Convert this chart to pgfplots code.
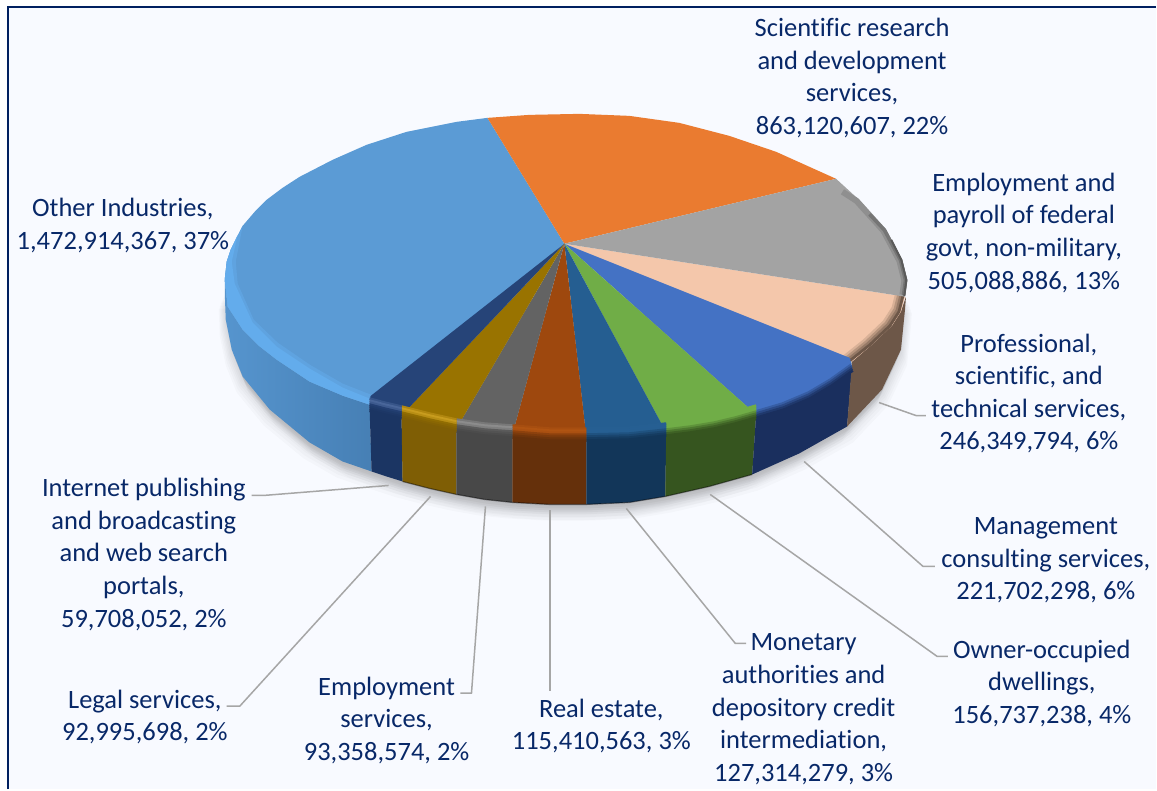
\documentclass[border=0pt]{standalone}
\usepackage{pgfplots}
\usepackage{pgfplotstable}
\pgfplotsset{compat=1.18}
\usepackage{fontspec}
\setmainfont{Carlito}[Ligatures=CommonOff]
\definecolor{lab}{HTML}{082868}
\definecolor{frame}{HTML}{002060}
\definecolor{bg}{HTML}{F8FAFF}
\definecolor{lead}{HTML}{A6A6A6}
% faces, highlights, sides
\definecolor{fBlue}{HTML}{5B9BD5}\definecolor{hBlue}{HTML}{63ACEC}\definecolor{sBlue}{HTML}{4A86BE}
\definecolor{fOrange}{HTML}{EA7B30}
\definecolor{fGrey}{HTML}{A3A3A3}
\definecolor{fPeach}{HTML}{F4C7AB}\definecolor{sPeach}{HTML}{6D5748}
\definecolor{fRoyal}{HTML}{4472C4}\definecolor{sRoyal}{HTML}{1A2F5E}
\definecolor{fGreen}{HTML}{70AD47}\definecolor{sGreen}{HTML}{36551F}
\definecolor{fSteel}{HTML}{255E91}\definecolor{hSteel}{HTML}{265F93}\definecolor{sSteel}{HTML}{123659}
\definecolor{fBrown}{HTML}{9E480E}\definecolor{hBrown}{HTML}{B05412}\definecolor{sBrown}{HTML}{65300B}
\definecolor{fDark}{HTML}{636363}\definecolor{hDark}{HTML}{8C8C8C}\definecolor{sDark}{HTML}{484848}
\definecolor{fGold}{HTML}{997300}\definecolor{hGold}{HTML}{C89C1E}\definecolor{sGold}{HTML}{7F5E05}
\definecolor{fNavy}{HTML}{264478}\definecolor{hNavy}{HTML}{49669A}\definecolor{sNavy}{HTML}{1B3563}

\pgfplotstableread{
x y
225 293
226 320
232 350
243 377
270 410
310 443
343 462
372 472
403 482
430 489
457 495
485 500
513 503
550 505
587 505
630 503
666 497
710 487
753 475
800 454
848 427
883 390
902 350
906 310
907 297
}\outline

% soft shadow step
\newcommand{\shadowstep}[2]{%
  \addplot[fill=black,draw=none,fill opacity=0.02,xshift=#1pt,yshift=#2pt] table {\outline};}
% rim: stacked strips following the top edge of a slice
\newcommand{\rim}[5]{%
  \addplot[draw=#1!50!#2,line width=2.5pt,xshift={-#4*9pt},yshift=9pt] coordinates {#5};
  \addplot[draw=#2,line width=2.5pt,xshift={-#4*7pt},yshift=7pt] coordinates {#5};
  \addplot[draw=#2!65!#1,line width=2.5pt,xshift={-#4*5pt},yshift=5pt] coordinates {#5};
  \addplot[draw=#1!70!#3,line width=2.5pt,xshift={-#4*3pt},yshift=3pt] coordinates {#5};
  \addplot[draw=#1!40!#3,line width=2.5pt,xshift={-#4*1pt},yshift=1pt] coordinates {#5};
  \addplot[draw=#3!85!#1,line width=2.5pt,xshift={#4*1pt},yshift=-1pt] coordinates {#5};
  \addplot[draw=#3,line width=2.5pt,xshift={#4*3pt},yshift=-3pt] coordinates {#5};}

\begin{document}
\begin{tikzpicture}
\begin{axis}[
  scale only axis, width=1157pt, height=790pt,
  xmin=0, xmax=1157, ymin=0, ymax=790, y dir=reverse,
  hide axis, clip=false, enlargelimits=false,
  every node/.style={inner sep=0pt,outer sep=0pt},
  ]
% page and frame
\addplot[fill=white,draw=none] coordinates {(0,0) (1157,0) (1157,790) (0,790)};
\addplot[fill=bg,draw=none] coordinates {(8,7) (1157,7) (1157,790) (8,790)};
\addplot[draw=frame,line width=2.6pt] coordinates {(8,790) (8,7) (1157,7)};

% shadow
\shadowstep{0}{-2}\shadowstep{1}{-4}\shadowstep{-1}{-4}\shadowstep{2}{-6}\shadowstep{-2}{-6}
\shadowstep{3}{-8}\shadowstep{-3}{-8}\shadowstep{4}{-10}\shadowstep{-4}{-10}\shadowstep{5}{-13}\shadowstep{-5}{-13}
\shadowstep{6}{-16}\shadowstep{-6}{-16}

% sides
\addplot[left color=fBlue!70!sBlue,right color=sBlue!95!black,draw=none] coordinates {(225,280) (228,307) (243,330) (259,346) (277,360) (310,382) (343,396) (370,405) (372,472) (343,462) (310,443) (270,410) (243,377) (232,350) (226,320) (225,293)};
\addplot[fill=sNavy,draw=none] coordinates {(370,408) (385,412) (402,416) (403,482) (387,477) (372,472)};
\addplot[fill=sGold,draw=none] coordinates {(402,416) (430,423) (457,429) (457,495) (430,489) (403,482)};
\addplot[fill=sDark,draw=none] coordinates {(457,429) (485,433) (513,435) (513,503) (485,500) (457,495)};
\addplot[fill=sBrown,draw=none] coordinates {(513,435) (550,438) (587,438) (587,505) (550,505) (513,503)};
\addplot[fill=sSteel,draw=none] coordinates {(587,438) (630,437) (667,433) (666,497) (630,503) (587,505)};
\addplot[fill=sGreen,draw=none] coordinates {(667,433) (715,426) (757,415) (753,475) (710,487) (666,497)};
\addplot[fill=sRoyal,draw=none] coordinates {(757,415) (810,396) (853,368) (848,427) (800,454) (753,475)};
\addplot[fill=sPeach,draw=none] coordinates {(853,362) (873,345) (893,326) (902,312) (907,297) (906,310) (902,350) (883,390) (848,427)};

% bottom edge
\addplot[draw=black,line width=1.2pt,opacity=0.45] coordinates {(403,482) (430,489) (457,495) (485,500) (513,503) (550,505) (587,505) (630,503) (666,497) (710,487) (753,475)};

% top faces
\addplot[fill=fBlue,draw=none] coordinates {(565,244) (488,118) (457,122) (407,132) (367,145) (333,160) (300,177) (283,188) (267,200) (255,212) (243,226) (231,250) (227,262) (225,280) (228,307) (243,330) (259,346) (277,360) (310,382) (343,396) (370,405)};
\addplot[fill=fOrange,draw=none] coordinates {(565,244) (488,118) (530,115) (580,114) (630,116) (680,123) (730,136) (777,152) (837,179)};
\addplot[fill=fPeach,draw=none] coordinates {(565,244) (906,297) (902,312) (893,326) (873,345) (853,362)};
% peach rim, shifted along its slanted edge
\addplot[draw=fPeach!80!sPeach,line width=2.8pt,xshift=-6pt,yshift=4pt] coordinates {(904,296) (900,312) (891,326) (871,345) (851,361)};
\addplot[draw=fPeach!55!sPeach,line width=2.8pt,xshift=-4pt,yshift=2.6pt] coordinates {(904,296) (900,312) (891,326) (871,345) (851,361)};
\addplot[draw=fPeach!30!sPeach,line width=2.8pt,xshift=-2pt,yshift=1.3pt] coordinates {(904,296) (900,312) (891,326) (871,345) (851,361)};
\addplot[draw=sPeach,line width=2.8pt] coordinates {(904,296) (900,312) (891,326) (871,345) (851,361)};
\addplot[fill=fGrey,draw=none] coordinates {(565,244) (837,179) (860,200) (887,230) (903,260) (908,280) (906,297)};
\addplot[fill=fRoyal,draw=none] coordinates {(565,244) (850,358) (853,368) (810,396) (757,415)};
\addplot[fill=fGreen,draw=none] coordinates {(565,244) (757,415) (715,426) (667,433)};
\addplot[fill=fSteel,draw=none] coordinates {(565,244) (667,433) (630,437) (587,438)};
\addplot[fill=fBrown,draw=none] coordinates {(565,244) (587,438) (550,438) (513,435)};
\addplot[fill=fDark,draw=none] coordinates {(565,244) (513,435) (485,433) (457,429)};
\addplot[fill=fGold,draw=none] coordinates {(565,244) (457,429) (430,423) (402,416)};
\addplot[fill=fNavy,draw=none] coordinates {(565,244) (402,416) (385,412) (370,408) (369,398)};

% rims
\addplot[fill=hBlue!50!fBlue,draw=none] coordinates {(243,226) (231,250) (227,262) (225,280) (228,307) (243,330) (259,346) (277,360) (310,382) (343,396) (370,405) (371,395) (343,384) (310,365) (278,343) (254,320) (238,284) (236,262)};
\addplot[fill=hBlue,draw=none] coordinates {(238,235) (231,250) (227,262) (225,280) (228,307) (243,330) (259,346) (277,360) (310,382) (343,396) (370,405) (370,399) (343,388) (310,369) (277,347) (253,323) (235,284) (232,262)};
\rim{fRoyal}{fRoyal}{sRoyal}{0.25}{(853,368) (832,383) (810,396) (784,407) (757,415)}
\rim{fGreen}{fGreen}{sGreen}{0}{(757,415) (736,421) (715,426) (691,430) (667,433)}
\rim{fSteel}{hSteel}{sSteel}{0}{(667,433) (630,437) (587,438)}
\rim{fBrown}{hBrown}{sBrown}{0}{(587,438) (550,438) (513,435)}
\rim{fDark}{hDark}{sDark}{0}{(513,435) (485,433) (457,429)}
\rim{fGold}{hGold}{sGold}{0}{(457,429) (430,423) (402,416)}
\rim{fNavy}{hNavy}{sNavy}{0}{(402,416) (385,412) (370,408)}

% dark outer edge of the grey slice
\addplot[draw=fGrey!88!black,line width=6pt,xshift=-2.6pt,yshift=-1pt] coordinates {(846,191) (860,200) (887,230) (903,260) (908,280) (906,294)};
\addplot[draw=fGrey!72!black,line width=3.5pt,xshift=-1.5pt,yshift=-0.5pt] coordinates {(872,214) (887,230) (903,260) (908,280) (906,295)};
\addplot[draw=fGrey!55!black,line width=2pt,xshift=-0.7pt,yshift=-0.2pt] coordinates {(893,240) (903,260) (908,280) (906,296)};

% leader lines
\addplot[draw=lead,line width=1.5pt] coordinates {(880,403) (917,416) (927,416)};
\addplot[draw=lead,line width=1.5pt] coordinates {(805,462) (924,567) (936,567)};
\addplot[draw=lead,line width=1.5pt] coordinates {(711,495) (938,657) (949,657)};
\addplot[draw=lead,line width=1.5pt] coordinates {(627,509) (736,644) (747,644)};
\addplot[draw=lead,line width=1.5pt] coordinates {(550.5,511) (550.5,692)};
\addplot[draw=lead,line width=1.5pt] coordinates {(486,507) (472,694) (461,694)};
\addplot[draw=lead,line width=1.5pt] coordinates {(431,497) (240,707) (227,707)};
\addplot[draw=lead,line width=1.5pt] coordinates {(389,486) (264,496) (252,496)};

% labels
\tikzset{lab/.style={text=lab,align=center,anchor=center,font=\fontsize{26.5}{32.6}\selectfont}}
\node[lab] at (axis cs:853,78) {Scientific research\\and development\\services,\\863,120,607, 22\%};
\node[lab] at (axis cs:1025,233) {Employment and\\payroll of federal\\govt, non-military,\\505,088,886, 13\%};
\node[lab] at (axis cs:1030,394) {Professional,\\scientific, and\\technical services,\\246,349,794, 6\%};
\node[lab] at (axis cs:1047,561) {Management\\consulting services,\\221,702,298, 6\%};
\node[lab] at (axis cs:1043,684) {Owner-occupied\\dwellings,\\156,737,238, 4\%};
\node[lab] at (axis cs:804.5,710) {Monetary\\authorities and\\depository credit\\intermediation,\\127,314,279, 3\%};
\node[lab] at (axis cs:602,727) {Real estate,\\115,410,563, 3\%};
\node[lab] at (axis cs:387,721) {Employment\\services,\\93,358,574, 2\%};
\node[lab] at (axis cs:145,718) {Legal services,\\92,995,698, 2\%};
\node[lab] at (axis cs:144,555) {Internet publishing\\and broadcasting\\and web search\\portals,\\59,708,052, 2\%};
\node[lab] at (axis cs:123,226) {Other Industries,\\1,472,914,367, 37\%};
\end{axis}
\end{tikzpicture}
\end{document}
